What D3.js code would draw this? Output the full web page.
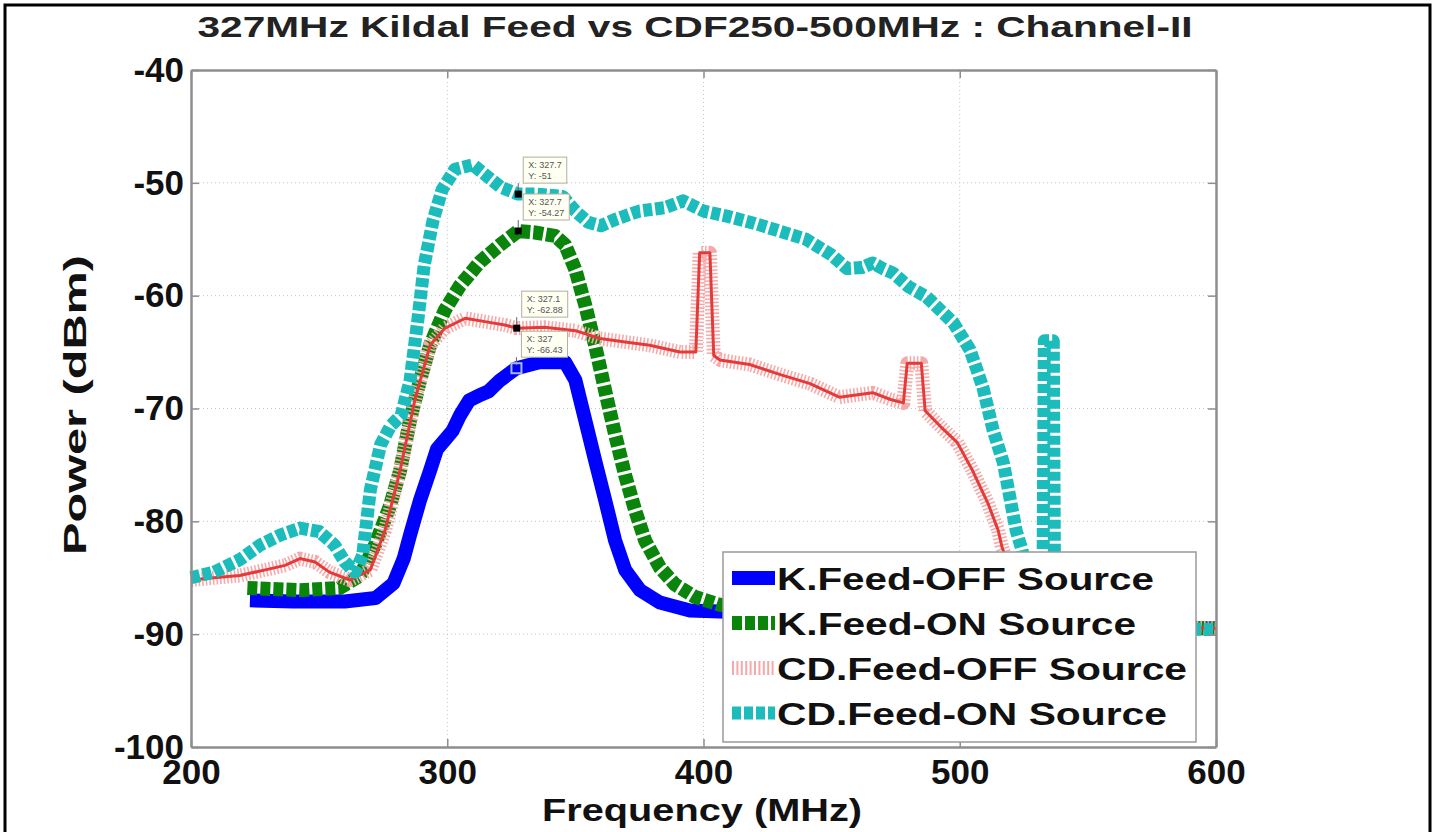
<!DOCTYPE html>
<html>
<head>
<meta charset="utf-8">
<script src="https://cdn.jsdelivr.net/npm/d3@7/dist/d3.min.js"></script>
<style>
  body { margin: 0; background: #fff; }
  svg { display: block; font-family: "Liberation Sans", Arial, sans-serif; }
</style>
</head>
<body>
<div id="chart"></div>
<script>
// values (MHz / dBm)
var kOffFreq = [223,240,260,272,279,283,285.5,289.4,293.3,296,299,302,305,308.5,312.8,316,320.6,327,336,346,350,353.8,357.7,361.6,365.5,369.4,375.2,383,394.7,406.4,430,470,520,560,600];
var kOffPower = [-87.0,-87.1,-87.1,-86.8,-85.5,-83.3,-81.2,-78.1,-75.5,-73.6,-72.8,-72,-70.6,-69.3,-68.8,-68.5,-67.5,-66.43,-65.9,-65.9,-67.5,-71,-74.6,-78.1,-81.7,-84.3,-86.1,-87.2,-87.9,-88,-88.3,-88.6,-89,-89.3,-89.5];

var kOnFreq = [222,242.5,258,266,271.8,277.7,281.6,285.5,289.4,293.3,299,305,312.8,320.6,327.7,334.2,342,346,350,353.8,357.7,361.6,365.5,369.4,373.3,377.2,383,388.9,396.7,406.4,430,470,520,560,600];
var kOnPower = [-85.9,-86.1,-85.9,-84.8,-82.1,-78.6,-75.5,-71,-67.5,-64.4,-61.3,-59.1,-57,-55.5,-54.27,-54.4,-54.7,-55.5,-57.7,-60.8,-64.4,-68.4,-72.3,-75.9,-79,-81.7,-84.1,-85.6,-86.7,-87.4,-88,-88.3,-88.8,-89.2,-89.5];

var cdOffFreq = [200,209,219,229,236.7,242.5,248.4,254,262,270,275.7,281.6,287.4,293.3,299,307,314.7,322.5,327.1,338,350,359.6,369.4,379,390.8,397,398.5,402.5,404,406.4,418,430,441.6,453,466,473,478,479.5,485,486.5,492.5,499,505,511,515,516.5,520,525,535,560,600];
var cdOffPower = [-85.2,-85,-84.8,-84.3,-83.9,-83.3,-83.6,-84.5,-85.2,-84.3,-80.8,-75.5,-69.2,-64.4,-62.9,-62,-62.3,-62.6,-62.88,-62.8,-63.1,-63.8,-64.1,-64.4,-65,-65,-56.2,-56.2,-65.3,-65.7,-66.1,-67,-67.8,-69,-68.6,-69.2,-69.5,-66,-66,-70.2,-71.6,-73,-75.5,-78.4,-80.8,-82.3,-84.5,-86.5,-88,-89,-89.5];

var cdOnFreq = [200,209,219,227,235,242.5,250,256,260,264,267,270,274,278,282,285.5,288.5,291,294.5,298,303,310,316,321,327.7,335,345,350,355,360,366,375,385,392,400,410,420,430,440,450,456,462,466,470,474,480,487,497.5,504,509,513,517,519.5,522,524,527,530,532.5,533,536.5,537,545,560,580,600];
var cdOnPower = [-85,-84.5,-83.4,-82.1,-81.2,-80.6,-80.9,-82.1,-83.6,-84.5,-83,-77.2,-73.2,-71.5,-70.6,-67.5,-62.2,-57.3,-53.3,-50.6,-48.8,-48.4,-49.5,-50.4,-51,-51,-51.2,-52.5,-53.5,-53.8,-53.2,-52.5,-52.2,-51.6,-52.5,-53,-53.6,-54.3,-55,-56.4,-57.6,-57.5,-57.1,-57.6,-58,-59.2,-60.1,-62.4,-64.8,-68.1,-71.9,-74.8,-77.8,-80.8,-82.3,-85,-86,-85,-64,-64,-86,-89.2,-89.4,-89.5,-89.6];

var seriesNames = ["K.Feed-OFF Source", "K.Feed-ON Source", "CD.Feed-OFF Source", "CD.Feed-ON Source"];
var xTicks = [200, 300, 400, 500, 600];
var yTicks = [-40, -50, -60, -70, -80, -90, -100];

// data tips
var tipFreq = [327.7, 327.7, 327.1, 327];
var tipPower = [-51, -54.27, -62.88, -66.43];

var width = 1436, height = 832;
var plot = { left: 191, right: 1216, top: 70, bottom: 747 };
var svg, xScale, yScale;

var styles = [
  { color: "#0000ff", width: 14, dash: null },
  { color: "#0a840a", width: 14, dash: "10,3" },
  { color: "#f6a9a9", width: 14, dash: "1.6,2", core: "#e53a3a" },
  { color: "#1cbcbc", width: 13, dash: "9,3" }
];

function zip(fs, ps) {
  return fs.map(function(f, i) { return { f: f, p: ps[i] }; });
}
var series = [
  zip(kOffFreq, kOffPower),
  zip(kOnFreq, kOnPower),
  zip(cdOffFreq, cdOffPower),
  zip(cdOnFreq, cdOnPower)
];

createSVG();
createScales();
drawFrame();
drawGrid();
drawSeries();
drawAxes();
drawDataTips();
drawLegend();
drawTitles();

function createSVG() {
  svg = d3.select("#chart")
    .append("svg")
      .attr("width", width)
      .attr("height", height);
  svg.append("rect").attr("width", width).attr("height", height).attr("fill", "#fff");
}

function createScales() {
  xScale = d3.scaleLinear().domain([200, 600]).range([plot.left, plot.right]);
  yScale = d3.scaleLinear().domain([-100, -40]).range([plot.bottom, plot.top]);
}

function drawFrame() {
  // outer figure border (page crop)
  svg.append("path")
    .attr("d", "M5,832 V5 H1430 V832")
    .attr("fill", "none")
    .attr("stroke", "#000")
    .attr("stroke-width", 3);
}

function drawGrid() {
  var g = svg.append("g").attr("class", "grid");
  g.selectAll(".vgrid")
    .data(xTicks.slice(1, -1))
    .enter().append("line")
      .attr("x1", function(d) { return xScale(d); })
      .attr("x2", function(d) { return xScale(d); })
      .attr("y1", plot.top).attr("y2", plot.bottom)
      .attr("stroke", "#c4c4c4")
      .attr("stroke-dasharray", "1,3");
  g.selectAll(".hgrid")
    .data(yTicks.slice(1, -1))
    .enter().append("line")
      .attr("y1", function(d) { return yScale(d); })
      .attr("y2", function(d) { return yScale(d); })
      .attr("x1", plot.left).attr("x2", plot.right)
      .attr("stroke", "#c4c4c4")
      .attr("stroke-dasharray", "1,3");
}

function drawSeries() {
  var line = d3.line()
    .x(function(d) { return xScale(d.f); })
    .y(function(d) { return yScale(d.p); });

  series.forEach(function(data, i) {
    var s = styles[i];
    svg.append("path")
      .datum(data)
      .attr("d", line)
      .attr("fill", "none")
      .attr("stroke", s.color)
      .attr("stroke-width", s.width)
      .attr("stroke-linejoin", "round")
      .attr("stroke-dasharray", s.dash);
    if (s.core) {
      svg.append("path")
        .datum(data)
        .attr("d", line)
        .attr("fill", "none")
        .attr("stroke", s.core)
        .attr("stroke-width", 3)
        .attr("stroke-linejoin", "round");
    }
  });
}

function drawAxes() {
  var axisColor = "#8e8e8e";
  var plain = function(d) { return String(d); };   // hyphen minus, like the original

  var bottom = svg.append("g")
    .attr("transform", "translate(0," + plot.bottom + ")")
    .call(d3.axisBottom(xScale).tickValues(xTicks).tickFormat(plain).tickSize(-8).tickSizeOuter(0).tickPadding(12));
  var left = svg.append("g")
    .attr("transform", "translate(" + plot.left + ",0)")
    .call(d3.axisLeft(yScale).tickValues(yTicks).tickFormat(plain).tickSize(-8).tickSizeOuter(0).tickPadding(7));
  var top = svg.append("g")
    .attr("transform", "translate(0," + plot.top + ")")
    .call(d3.axisTop(xScale).tickValues(xTicks).tickSize(-8).tickSizeOuter(0).tickFormat(""));
  var right = svg.append("g")
    .attr("transform", "translate(" + plot.right + ",0)")
    .call(d3.axisRight(yScale).tickValues(yTicks).tickSize(-8).tickSizeOuter(0).tickFormat(""));

  [bottom, left, top, right].forEach(function(a) {
    a.select(".domain").attr("stroke", axisColor).attr("stroke-width", 2.5);
    a.selectAll(".tick line").attr("stroke", axisColor).attr("stroke-width", 1.5);
    a.selectAll(".tick text")
      .attr("fill", "#111")
      .style("font-size", "35px")
      .style("font-weight", "bold")
      .style("font-family", "'Liberation Sans', Arial, sans-serif");
  });
}

function drawDataTips() {
  var tips = svg.append("g").attr("class", "datatips");
  tipFreq.forEach(function(f, i) {
    var cx = xScale(f), cy = yScale(tipPower[i]);
    var bx = cx + 5, by = cy - 37;
    var tip = tips.append("g");
    tip.append("line")
      .attr("x1", cx).attr("x2", cx)
      .attr("y1", cy - 3).attr("y2", by + 26)
      .attr("stroke", "#666").attr("stroke-width", 1);
    var box = tip.append("rect")
      .attr("x", bx).attr("y", by)
      .attr("height", 26)
      .attr("fill", "#fffff2")
      .attr("stroke", "#b0b0a0")
      .attr("stroke-width", 1);
    var t1 = tip.append("text").attr("x", bx + 5).attr("y", by + 11)
      .style("font-size", "9px").attr("fill", "#555").text("X: " + f);
    var t2 = tip.append("text").attr("x", bx + 5).attr("y", by + 22)
      .style("font-size", "9px").attr("fill", "#555").text("Y: " + tipPower[i]);
    var w = Math.max(t1.node().getComputedTextLength(), t2.node().getComputedTextLength()) + 10;
    box.attr("width", w);
    if (i < 3) {
      tip.append("rect")
        .attr("x", cx - 3.5).attr("y", cy - 3.5)
        .attr("width", 7).attr("height", 7)
        .attr("fill", "#000");
    } else {
      tip.append("rect")
        .attr("x", cx - 5).attr("y", cy - 5)
        .attr("width", 10).attr("height", 10)
        .attr("fill", "none")
        .attr("stroke", "#a8b8d8").attr("stroke-width", 2);
    }
  });
}

function drawLegend() {
  var legendBox = { x: 723, y: 552, w: 473, h: 190 };
  var rowBase = [590, 635, 680, 725];
  var textLen = [377, 359, 410, 390];

  var legend = svg.append("g").attr("class", "legend");
  legend.append("rect")
    .attr("x", legendBox.x).attr("y", legendBox.y)
    .attr("width", legendBox.w).attr("height", legendBox.h)
    .attr("fill", "#fff")
    .attr("stroke", "#9a9a9a")
    .attr("stroke-width", 1.5);

  seriesNames.forEach(function(name, i) {
    var s = styles[i];
    var ly = rowBase[i] - 12;
    legend.append("line")
      .attr("x1", 732).attr("x2", 775)
      .attr("y1", ly).attr("y2", ly)
      .attr("stroke", s.color)
      .attr("stroke-width", s.width)
      .attr("stroke-dasharray", s.dash ? (i === 2 ? "2,2.4" : s.dash) : null);
    legend.append("text")
      .attr("x", 777).attr("y", rowBase[i])
      .attr("textLength", textLen[i])
      .attr("lengthAdjust", "spacingAndGlyphs")
      .style("font-size", "31px")
      .style("font-weight", "bold")
      .attr("fill", "#111")
      .text(name);
  });
}

function drawTitles() {
  svg.append("text")
    .attr("x", 695).attr("y", 37)
    .attr("text-anchor", "middle")
    .attr("textLength", 995)
    .attr("lengthAdjust", "spacingAndGlyphs")
    .style("font-size", "30px")
    .style("font-weight", "bold")
    .attr("fill", "#222")
    .text("327MHz Kildal Feed vs CDF250-500MHz : Channel-II");

  svg.append("text")
    .attr("x", 702).attr("y", 821)
    .attr("text-anchor", "middle")
    .attr("textLength", 320)
    .attr("lengthAdjust", "spacingAndGlyphs")
    .style("font-size", "31px")
    .style("font-weight", "bold")
    .attr("fill", "#111")
    .text("Frequency (MHz)");

  svg.append("text")
    .attr("transform", "translate(86,405) rotate(-90)")
    .attr("text-anchor", "middle")
    .attr("textLength", 300)
    .attr("lengthAdjust", "spacingAndGlyphs")
    .style("font-size", "32px")
    .style("font-weight", "bold")
    .attr("fill", "#111")
    .text("Power (dBm)");
}
</script>
</body>
</html>
